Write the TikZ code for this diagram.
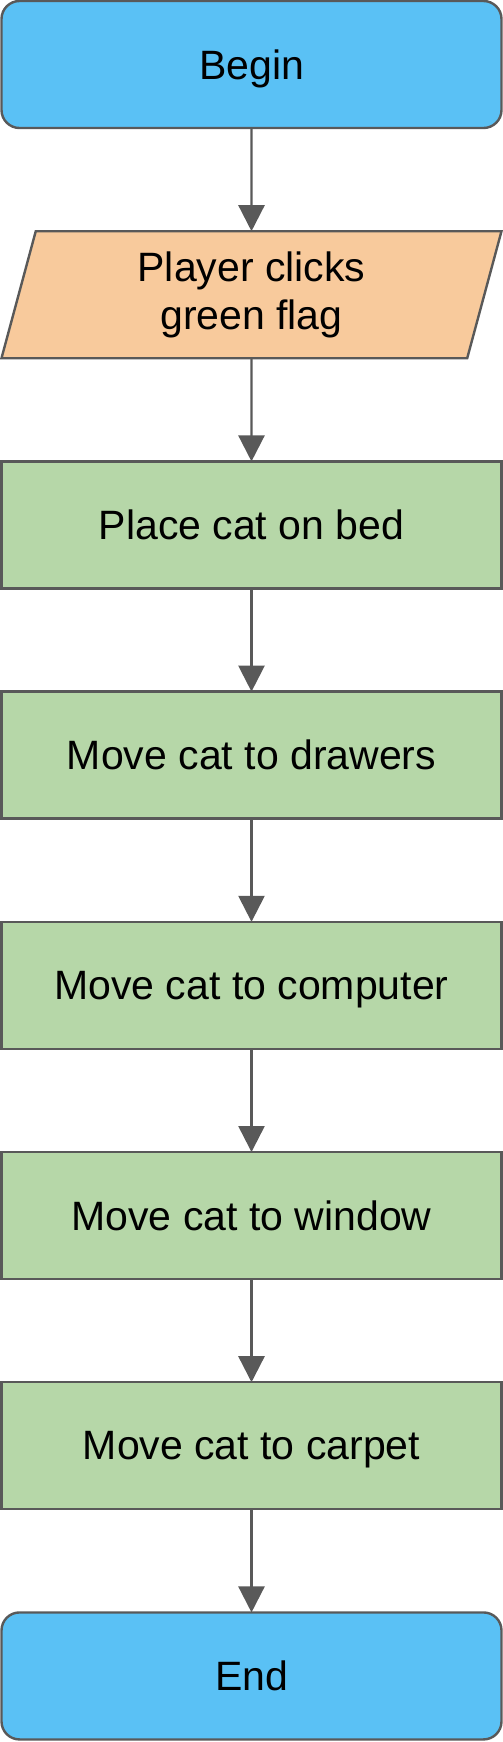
\documentclass[tikz,border=0pt]{standalone}
\usepackage{fontspec}
\setmainfont{Liberation Sans}
\usetikzlibrary{
	arrows.meta,
	positioning,
	shapes.geometric
}
\definecolor{termblue}{HTML}{5AC1F5}
\definecolor{inorange}{HTML}{F8CA9C}
\definecolor{stepgreen}{HTML}{B6D7A8}
\definecolor{edgegrey}{HTML}{595959}
\tikzset{every path/.append style={line width=1.2pt}}
\tikzset{
	box/.style={draw=edgegrey,minimum width=250pt,minimum height=63.5pt,outer sep=0pt,align=center,font=\fontsize{20.5}{24}\selectfont},
	terminal/.style={box,text depth=0pt,rounded corners=9pt,fill=termblue},
	inputbox/.style={box,trapezium,trapezium left angle=71,trapezium right angle=109,trapezium stretches body=true,fill=inorange},
	stepbox/.style={box,text depth=0pt,fill=stepgreen},
	flow/.style={draw=edgegrey,-{Triangle[length=13pt,width=13pt]}}
}
\newcommand{\tikzStep}[3][]{\node (#3) [stepbox,#1]{#2};}

\begin{document}
\begin{tikzpicture}[node distance=51.6pt]
	\useasboundingbox (0,0) rectangle (251.5pt,-871pt);

	\node (begin) at (125.75pt,-32.25pt) [terminal]{Begin};
	\node (flag) [inputbox,below=of begin]{Player clicks\\green flag};
	
	\tikzStep[below=of flag]{Place cat on bed}{bed};
	\tikzStep[below=of bed]{Move cat to drawers}{drawers};
	\tikzStep[below=of drawers]{Move cat to computer}{computer};
	\tikzStep[below=of computer]{Move cat to window}{window};
	\tikzStep[below=of window]{Move cat to carpet}{carpet};
	
	\node (end) [terminal,below=of carpet]{End};
	
	\draw[flow] (begin) -- (flag);
	\draw[flow] (flag) -- (bed);
	\draw[flow] (bed) -- (drawers);
	\draw[flow] (drawers) -- (computer);
	\draw[flow] (computer) -- (window);
	\draw[flow] (window) -- (carpet);
	\draw[flow] (carpet) -- (end);
\end{tikzpicture}
\end{document}
